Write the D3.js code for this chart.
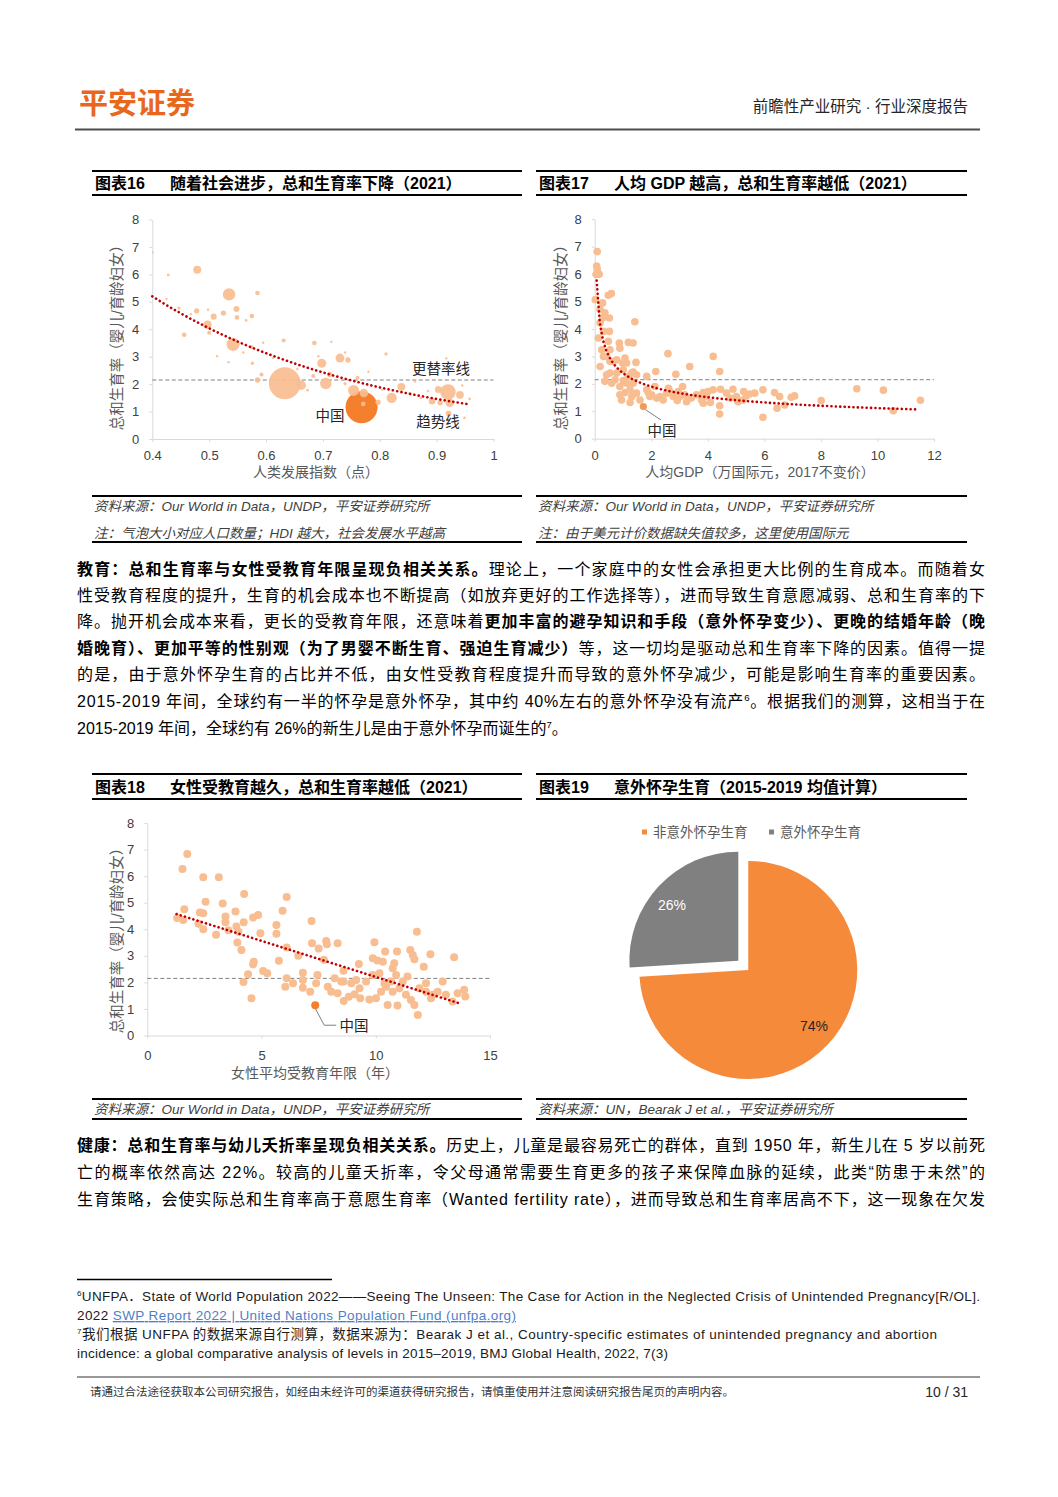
<!DOCTYPE html>
<html lang="zh-CN">
<head>
<meta charset="UTF-8">
<title>平安证券 行业深度报告 p10</title>
<script src="https://d3js.org/d3.v7.min.js"></script>
<style>
  body { margin: 0; background: #fff; }
  svg text { font-family: "Liberation Sans", "Noto Sans CJK SC", sans-serif; }
  .axis path, .axis line { stroke: #d9d9d9; }
  .axis text { fill: #404040; font-size: 13px; }
</style>
</head>
<body>
<div id="page"></div>
<script>
const W = 1058, H = 1497;

// ---- chart 16: HDI vs TFR, bubble = population (millions)
const hdiBubbles = [
  [0.400, 6.80, 10], [0.428, 5.98, 10], [0.479, 6.17, 88], [0.535, 5.27, 213], [0.585, 5.32, 30],
  [0.425, 5.10, 5], [0.447, 4.77, 15], [0.478, 4.67, 39], [0.525, 4.59, 39], [0.508, 4.46, 50],
  [0.548, 4.74, 50], [0.549, 4.43, 30], [0.575, 4.48, 30], [0.565, 4.32, 10], [0.498, 4.71, 5],
  [0.497, 4.16, 103], [0.500, 3.87, 22], [0.456, 3.80, 30], [0.542, 3.45, 231], [0.575, 3.34, 22],
  [0.631, 3.59, 22], [0.685, 3.50, 30], [0.811, 3.10, 15], [0.576, 2.76, 15], [0.534, 2.80, 5],
  [0.592, 2.35, 22], [0.585, 2.15, 39], [0.633, 2.03, 1408], [0.662, 1.96, 120], [0.698, 2.76, 111],
  [0.730, 2.95, 109], [0.744, 2.88, 39], [0.705, 2.02, 180], [0.712, 2.35, 39], [0.683, 2.30, 22],
  [0.754, 1.77, 170], [0.772, 1.68, 100], [0.771, 1.28, 30], [0.797, 1.34, 39], [0.821, 1.50, 145],
  [0.838, 1.90, 85], [0.853, 1.65, 15], [0.804, 1.80, 5], [0.892, 1.38, 61], [0.903, 1.80, 68],
  [0.920, 1.71, 332], [0.941, 1.61, 83], [0.923, 1.32, 100], [0.906, 1.32, 39], [0.921, 0.93, 45],
  [0.949, 0.77, 10], [0.958, 1.46, 10], [0.917, 2.94, 5], [0.761, 2.23, 22], [0.739, 2.02, 15],
  [0.673, 1.78, 10], [0.595, 3.51, 5], [0.514, 3.02, 5], [0.715, 3.54, 5], [0.739, 3.15, 5],
  [0.692, 3.02, 5], [0.872, 1.50, 10], [0.468, 4.55, 4], [0.612, 2.95, 4], [0.655, 2.55, 4],
  [0.780, 2.45, 4], [0.862, 2.10, 4], [0.885, 1.75, 4], [0.945, 1.95, 4], [0.560, 3.15, 4]
];
const chinaHdi = [0.768, 1.16, 1412];
const hdiTicks = [0.4, 0.5, 0.6, 0.7, 0.8, 0.9, 1];
const trend16 = { a: 14.37, b: -2.541, from: 0.40, to: 0.958 };   // exponential trendline

// ---- chart 17: GDP per capita (10k intl $) vs TFR
const gdpPoints = [
  [0.09, 6.82], [0.07, 6.29], [0.09, 6.17], [0.16, 5.99], [0.05, 5.99], [0.02, 5.07], [0.48, 5.23],
  [0.59, 5.29], [0.28, 4.95], [0.19, 4.71], [0.36, 4.59], [0.52, 4.40], [0.28, 4.40], [1.42, 4.26],
  [0.19, 4.22], [0.52, 3.91], [0.31, 3.91], [0.13, 3.67], [0.48, 3.55], [0.87, 3.49], [1.19, 3.51],
  [1.36, 3.49], [0.54, 3.24], [0.89, 3.30], [0.31, 3.00], [0.66, 2.82], [1.07, 2.94], [1.46, 2.78],
  [2.59, 3.10], [3.36, 2.63], [4.19, 3.00], [4.42, 2.45], [2.16, 2.45], [2.87, 2.35], [1.84, 2.27],
  [1.36, 2.43], [1.31, 2.39], [0.42, 2.33], [0.78, 2.39], [1.01, 2.51], [1.13, 2.76], [1.48, 2.33],
  [0.36, 2.09], [0.60, 2.02], [0.89, 1.90], [1.01, 2.12], [1.36, 2.02], [1.25, 1.78], [0.95, 1.41],
  [1.25, 1.32], [1.31, 1.54], [1.48, 1.66], [1.60, 1.41], [1.84, 1.78], [2.01, 1.60], [2.13, 1.90],
  [2.31, 1.54], [2.54, 1.66], [2.61, 1.84], [2.78, 1.54], [2.92, 1.39], [3.11, 1.90], [3.19, 1.60],
  [3.25, 1.35], [3.42, 1.48], [3.84, 1.68], [3.84, 1.29], [4.01, 1.72], [4.09, 1.32], [4.19, 1.78],
  [4.45, 1.80], [4.42, 1.20], [4.42, 0.90], [4.78, 1.48], [4.89, 1.80], [5.01, 1.54], [5.27, 1.72],
  [5.36, 1.56], [5.66, 1.66], [5.95, 1.78], [5.95, 0.78], [6.36, 1.68], [6.54, 1.54], [6.45, 1.11],
  [6.72, 1.23], [6.95, 1.51], [7.07, 1.56], [8.01, 1.39], [9.27, 1.82], [10.21, 1.77], [10.56, 1.02],
  [11.52, 1.40], [0.19, 2.63], [0.54, 2.39], [0.72, 2.15], [1.13, 2.02], [0.89, 1.60], [1.07, 1.68],
  [1.19, 2.27], [0.54, 2.82], [0.25, 3.24], [0.42, 3.00], [0.78, 2.88], [0.99, 2.76], [2.19, 1.48],
  [2.42, 1.41], [2.66, 1.72], [3.01, 1.54], [1.95, 1.54], [1.89, 1.68], [2.95, 1.72], [3.78, 1.41],
  [3.95, 1.54], [3.60, 1.60], [5.25, 1.41], [5.48, 1.63], [4.66, 1.66], [5.07, 1.35]
];
const chinaGdp = [1.72, 1.17];
const gdpTicks = [0, 2, 4, 6, 8, 10, 12];
const trend17 = { a: 2.39, b: -0.331, from: 0.07, to: 11.4 };     // power trendline

// ---- chart 18: female mean years of schooling vs TFR
const eduPoints = [
  [1.75, 6.83], [1.54, 6.27], [2.45, 5.96], [3.13, 5.96], [4.24, 5.33], [6.10, 5.21], [2.55, 5.04],
  [3.30, 4.97], [1.62, 4.75], [3.86, 4.67], [5.92, 4.70], [2.30, 4.63], [2.45, 4.60], [3.42, 4.48],
  [1.31, 4.42], [1.57, 4.35], [4.63, 4.44], [4.85, 4.54], [4.22, 4.26], [3.42, 4.26], [5.65, 4.16],
  [2.24, 4.21], [2.45, 4.00], [3.90, 4.10], [3.99, 3.91], [3.55, 3.96], [3.01, 3.79], [4.95, 3.85],
  [5.65, 3.83], [7.19, 4.31], [3.94, 3.50], [4.12, 3.22], [7.21, 3.47], [7.83, 3.56], [7.86, 3.44],
  [8.33, 3.47], [7.50, 3.28], [6.10, 3.31], [6.61, 3.00], [7.73, 2.85], [5.76, 2.81], [4.66, 2.78],
  [4.63, 2.68], [9.94, 3.51], [10.41, 3.16], [10.93, 3.16], [11.80, 3.91], [11.51, 3.22], [11.62, 3.03],
  [11.69, 2.87], [12.39, 3.06], [13.43, 2.95], [12.10, 2.59], [9.26, 2.69], [9.87, 2.91], [10.07, 2.82],
  [10.31, 2.78], [8.59, 2.44], [8.59, 2.03], [4.41, 2.31], [5.07, 2.43], [5.25, 2.34], [4.21, 2.01],
  [4.56, 1.40], [6.10, 2.16], [6.04, 1.84], [6.38, 1.97], [6.81, 2.36], [6.81, 2.09], [6.81, 1.80],
  [7.13, 1.65], [7.45, 2.28], [7.90, 1.84], [8.20, 2.16], [8.33, 1.59], [8.60, 1.30], [8.82, 1.46],
  [9.07, 1.55], [9.32, 1.40], [9.72, 1.36], [10.01, 1.40], [10.52, 1.15], [10.95, 1.13], [10.74, 2.53],
  [10.81, 2.72], [10.89, 2.28], [10.67, 2.03], [10.45, 1.84], [10.74, 1.65], [11.03, 1.78], [11.32, 1.53],
  [11.39, 2.22], [11.69, 1.15], [11.84, 0.77], [11.54, 1.34], [11.91, 1.78], [12.20, 1.65], [12.49, 1.53],
  [12.71, 1.65], [12.93, 2.03], [13.07, 1.53], [13.36, 1.28], [13.58, 1.59], [13.87, 1.72], [13.92, 1.47],
  [9.14, 2.09], [9.58, 2.03], [9.87, 2.28], [10.16, 2.34], [8.49, 2.03], [8.93, 1.97], [7.39, 1.97],
  [8.05, 1.65], [9.29, 1.78], [10.23, 1.65], [12.42, 1.40], [12.20, 1.97], [10.38, 1.97], [11.18, 2.03]
];
const chinaEdu = [7.35, 1.14];
const eduTicks = [0, 5, 10, 15];
const trend18 = { slope: -0.2715, intercept: 4.92, from: 1.28, to: 13.73 }; // linear trendline

const yTicks = [0, 1, 2, 3, 4, 5, 6, 7, 8];
const replacementRate = 2.15;

// ---- chart 19
const pieLabels = ["非意外怀孕生育", "意外怀孕生育"];
const pieValues = [74, 26];
const pieColors = ["#f58a3a", "#808080"];

const bubbleColor = "#f8bd90", chinaColor = "#f47f2c", trendColor = "#c00000";

const svg = d3.select("#page").append("svg").attr("width", W).attr("height", H);

// ---------- helpers
function textLine(x, y, segs, size, width, color) {
  const t = svg.append("text").attr("x", x).attr("y", y)
    .attr("font-size", size).attr("fill", color || "#000");
  let raised = false;
  segs.forEach(s => {
    const ts = t.append("tspan").text(s.t);
    if (s.b) ts.attr("font-weight", "bold");
    if (s.sup) { ts.attr("font-size", size * 0.6).attr("dy", -size * 0.4); raised = true; }
    else if (raised) { ts.attr("dy", size * 0.4); raised = false; }
    if (s.fill) ts.attr("fill", s.fill);
    if (s.u) ts.attr("text-decoration", "underline");
  });
  if (width) t.attr("textLength", width).attr("lengthAdjust", "spacing");
  return t;
}

function hline(x1, x2, y, w, c) {
  svg.append("line").attr("x1", x1).attr("x2", x2).attr("y1", y).attr("y2", y)
    .attr("stroke", c || "#000").attr("stroke-width", w);
}

function titleBar(x1, x2, top, bottom, num, title, titleX) {
  hline(x1, x2, top, 2);
  hline(x1, x2, bottom, 2);
  const cy = (top + bottom) / 2 + 6;
  svg.append("text").attr("x", x1 + 3).attr("y", cy).attr("font-size", 16)
    .attr("font-weight", "bold").text(num);
  svg.append("text").attr("x", titleX).attr("y", cy).attr("font-size", 16)
    .attr("font-weight", "bold").text(title);
}

function sourceBox(x1, x2, top, bottom, lines) {
  hline(x1, x2, top, 2);
  hline(x1, x2, bottom, 2);
  lines.forEach((l, i) => {
    svg.append("text").attr("x", x1 + 2).attr("y", top + 15 + i * 27)
      .attr("font-size", 13.5).attr("font-style", "italic").attr("fill", "#404040").text(l);
  });
}

function frame(o) {
  const x = d3.scaleLinear().domain([o.ticks[0], o.ticks[o.ticks.length - 1]]).range([o.x0, o.x1]);
  const y = d3.scaleLinear().domain([0, 8]).range([o.y0, o.y1]);
  svg.append("g").attr("class", "axis").attr("transform", `translate(0,${o.y0})`)
    .call(d3.axisBottom(x).tickValues(o.ticks).tickSize(3).tickSizeOuter(0)
      .tickPadding(o.xPad).tickFormat(d3.format("~g")));
  svg.append("g").attr("class", "axis").attr("transform", `translate(${o.x0},0)`)
    .call(d3.axisLeft(y).tickValues(yTicks).tickSize(3).tickSizeOuter(0).tickPadding(10));
  svg.selectAll(".axis .domain").attr("stroke", "#d9d9d9");
  // axis titles
  svg.append("text").attr("x", o.xLabelX).attr("y", o.xLabelY).attr("text-anchor", "middle")
    .attr("font-size", 14).attr("fill", "#595959").text(o.xLabel);
  svg.append("text").attr("transform", `translate(${o.yLabelX},${o.yLabelY}) rotate(-90)`)
    .attr("text-anchor", "middle").attr("dy", "0.35em")
    .attr("font-size", 14.5).attr("fill", "#595959").text("总和生育率（婴儿/育龄妇女）");
  // replacement line
  svg.append("line").attr("x1", o.x0).attr("x2", o.x1)
    .attr("y1", y(replacementRate)).attr("y2", y(replacementRate))
    .attr("stroke", "#808080").attr("stroke-width", 1).attr("stroke-dasharray", "4 2.5");
  return { x, y };
}

function trendPath(sc, f, from, to) {
  const xs = d3.range(0, 101).map(i => from + (to - from) * i / 100);
  return svg.append("path")
    .attr("d", d3.line().x(d => sc.x(d)).y(d => sc.y(f(d)))(xs))
    .attr("fill", "none").attr("stroke", trendColor).attr("stroke-width", 2.6)
    .attr("stroke-linecap", "round").attr("stroke-dasharray", "0.1 4.3");
}

function label(x, y, t, size, color) {
  svg.append("text").attr("x", x).attr("y", y).attr("text-anchor", "middle").attr("dy", "0.35em")
    .attr("font-size", size || 14.5).attr("fill", color || "#262626").text(t);
}

// ---------- page header
svg.append("text").attr("x", 79).attr("y", 114).attr("font-size", 29).attr("font-weight", "bold")
  .attr("fill", "#e9661d").attr("font-family", "Noto Sans CJK SC").text("平安证券");
svg.append("text").attr("x", 968).attr("y", 112).attr("text-anchor", "end").attr("font-size", 15.5)
  .attr("fill", "#262626").text("前瞻性产业研究 · 行业深度报告");
hline(75, 980, 129.5, 2.2, "#4d4d4d");

// ---------- chart 16
titleBar(92, 522, 171, 195, "图表16", "随着社会进步，总和生育率下降（2021）", 170);
{
  const sc = frame({ ticks: hdiTicks, x0: 152.3, x1: 493.5, y0: 439, y1: 219.5, xPad: 9,
    xLabel: "人类发展指数（点）", xLabelX: 316, xLabelY: 477, yLabelX: 117, yLabelY: 334 });
  const r = d3.scaleSqrt().domain([0, 1412]).range([0, 16]);
  svg.append("clipPath").attr("id", "c16").append("rect")
    .attr("x", 152.3).attr("y", 200).attr("width", 345).attr("height", 239);
  svg.append("circle").attr("cx", sc.x(chinaHdi[0])).attr("cy", sc.y(chinaHdi[1]))
    .attr("r", r(chinaHdi[2])).attr("fill", chinaColor);
  svg.append("g").attr("clip-path", "url(#c16)").selectAll("circle").data(hdiBubbles).join("circle")
    .attr("cx", d => sc.x(d[0])).attr("cy", d => sc.y(d[1]))
    .attr("r", d => Math.max(1.2, r(d[2]))).attr("fill", bubbleColor).attr("fill-opacity", 0.92);
  trendPath(sc, v => trend16.a * Math.exp(trend16.b * v), trend16.from, trend16.to);
  label(441, 369, "更替率线");
  label(330, 416, "中国");
  label(438, 422, "趋势线");
}
sourceBox(92, 522, 496, 542, ["资料来源：Our World in Data，UNDP，平安证券研究所",
  "注：气泡大小对应人口数量；HDI 越大，社会发展水平越高"]);

// ---------- chart 17
titleBar(536, 967, 171, 195, "图表17", "人均 GDP 越高，总和生育率越低（2021）", 614);
{
  const sc = frame({ ticks: gdpTicks, x0: 594.7, x1: 934, y0: 438.7, y1: 219.2, xPad: 9,
    xLabel: "人均GDP（万国际元，2017不变价）", xLabelX: 760, xLabelY: 477, yLabelX: 561, yLabelY: 334 });
  svg.append("g").selectAll("circle").data(gdpPoints).join("circle")
    .attr("cx", d => sc.x(d[0])).attr("cy", d => sc.y(d[1])).attr("r", 3.8).attr("fill", bubbleColor);
  svg.append("circle").attr("cx", sc.x(chinaGdp[0])).attr("cy", sc.y(chinaGdp[1]))
    .attr("r", 3.6).attr("fill", "#f29a5c");
  trendPath(sc, v => trend17.a * Math.pow(v, trend17.b), trend17.from, trend17.to);
  svg.append("line").attr("x1", sc.x(chinaGdp[0]) + 2).attr("y1", sc.y(chinaGdp[1]) + 3)
    .attr("x2", 661).attr("y2", 420).attr("stroke", "#7f7f7f").attr("stroke-width", 1);
  label(662, 431, "中国");
}
sourceBox(536, 967, 496, 542, ["资料来源：Our World in Data，UNDP，平安证券研究所",
  "注：由于美元计价数据缺失值较多，这里使用国际元"]);

// ---------- body paragraph 1
const B = 908, L = 77;
textLine(L, 575, [{ t: "教育：总和生育率与女性受教育年限呈现负相关关系。", b: 1 },
  { t: "理论上，一个家庭中的女性会承担更大比例的生育成本。而随着女" }], 16, B);
textLine(L, 601, [{ t: "性受教育程度的提升，生育的机会成本也不断提高（如放弃更好的工作选择等），进而导致生育意愿减弱、总和生育率的下" }], 16, B);
textLine(L, 627, [{ t: "降。抛开机会成本来看，更长的受教育年限，还意味着" },
  { t: "更加丰富的避孕知识和手段（意外怀孕变少）、更晚的结婚年龄（晚", b: 1 }], 16, B);
textLine(L, 654, [{ t: "婚晚育）、更加平等的性别观（为了男婴不断生育、强迫生育减少）", b: 1 },
  { t: "等，这一切均是驱动总和生育率下降的因素。值得一提" }], 16, B);
textLine(L, 680, [{ t: "的是，由于意外怀孕生育的占比并不低，由女性受教育程度提升而导致的意外怀孕减少，可能是影响生育率的重要因素。" }], 16, B);
textLine(L, 707, [{ t: "2015-2019 年间，全球约有一半的怀孕是意外怀孕，其中约 40%左右的意外怀孕没有流产" },
  { t: "6", sup: 1 }, { t: "。根据我们的测算，这相当于在" }], 16, B);
textLine(L, 734, [{ t: "2015-2019 年间，全球约有 26%的新生儿是由于意外怀孕而诞生的" },
  { t: "7", sup: 1 }, { t: "。" }], 16);

// ---------- chart 18
titleBar(92, 522, 774, 799, "图表18", "女性受教育越久，总和生育率越低（2021）", 170);
{
  const sc = frame({ ticks: eduTicks, x0: 147.3, x1: 490, y0: 1035.5, y1: 823, xPad: 12,
    xLabel: "女性平均受教育年限（年）", xLabelX: 315, xLabelY: 1078, yLabelX: 117, yLabelY: 937 });
  svg.append("g").selectAll("circle").data(eduPoints).join("circle")
    .attr("cx", d => sc.x(d[0])).attr("cy", d => sc.y(d[1])).attr("r", 4).attr("fill", bubbleColor);
  trendPath(sc, v => trend18.intercept + trend18.slope * v, trend18.from, trend18.to);
  const cx = sc.x(chinaEdu[0]), cy = sc.y(chinaEdu[1]);
  svg.append("polyline").attr("points", `${cx},${cy + 3} ${cx + 9},${cy + 20} ${cx + 21},${cy + 20}`)
    .attr("fill", "none").attr("stroke", "#7f7f7f").attr("stroke-width", 1);
  svg.append("circle").attr("cx", cx).attr("cy", cy).attr("r", 4).attr("fill", chinaColor);
  label(354, 1026, "中国");
}
sourceBox(92, 522, 1099, 1119, ["资料来源：Our World in Data，UNDP，平安证券研究所"]);

// ---------- chart 19
titleBar(536, 967, 774, 799, "图表19", "意外怀孕生育（2015-2019 均值计算）", 614);
{
  const cx = 743.3, cy = 965.3, R = 109, off = 6.8;
  const arcs = d3.pie().sort(null)(pieValues);
  const arc = d3.arc().innerRadius(0).outerRadius(R);
  const g = svg.append("g").attr("transform", `translate(${cx},${cy})`);
  g.selectAll("path").data(arcs).join("path")
    .attr("transform", d => {
      const a = (d.startAngle + d.endAngle) / 2;
      return `translate(${off * Math.sin(a)},${-off * Math.cos(a)})`;
    })
    .attr("d", arc).attr("fill", (d, i) => pieColors[i]);
  label(672, 905, pieValues[1] + "%", 14, "#fff");
  label(814, 1026, pieValues[0] + "%", 14, "#262626");
  // legend
  const lx = [642, 769];
  pieLabels.forEach((t, i) => {
    svg.append("rect").attr("x", lx[i]).attr("y", 829.5).attr("width", 5).attr("height", 5).attr("fill", pieColors[i]);
    svg.append("text").attr("x", lx[i] + 11).attr("y", 837).attr("font-size", 13.5)
      .attr("fill", "#595959").text(t);
  });
}
sourceBox(536, 967, 1099, 1119, ["资料来源：UN，Bearak J et al.，平安证券研究所"]);

// ---------- body paragraph 2
textLine(L, 1151, [{ t: "健康：总和生育率与幼儿夭折率呈现负相关关系。", b: 1 },
  { t: "历史上，儿童是最容易死亡的群体，直到 1950 年，新生儿在 5 岁以前死" }], 16, B);
textLine(L, 1178, [{ t: "亡的概率依然高达 22%。较高的儿童夭折率，令父母通常需要生育更多的孩子来保障血脉的延续，此类“防患于未然”的" }], 16, B);
textLine(L, 1205, [{ t: "生育策略，会使实际总和生育率高于意愿生育率（Wanted fertility rate），进而导致总和生育率居高不下，这一现象在欠发" }], 16, B);

// ---------- footnotes
hline(77, 332, 1279.5, 1.5);
textLine(77, 1301, [{ t: "6", sup: 1 }, { t: "UNFPA．State of World Population 2022——Seeing The Unseen: The Case for Action in the Neglected Crisis of Unintended Pregnancy[R/OL]." }], 13.5, 903, "#1a1a1a");
textLine(77, 1320, [{ t: "2022 " }, { t: "SWP Report 2022 | United Nations Population Fund (unfpa.org)", fill: "#4f7fc4", u: 1 }], 13.5, 439, "#1a1a1a");
textLine(77, 1339, [{ t: "7", sup: 1 }, { t: "我们根据 UNFPA 的数据来源自行测算，数据来源为：Bearak J et al., Country-specific estimates of unintended pregnancy and abortion" }], 13.5, 860, "#1a1a1a");
textLine(77, 1358, [{ t: "incidence: a global comparative analysis of levels in 2015–2019, BMJ Global Health, 2022, 7(3)" }], 13.5, 591, "#1a1a1a");

// ---------- footer
hline(77, 980, 1377, 1.2, "#333");
svg.append("text").attr("x", 90).attr("y", 1396).attr("font-size", 11.5).attr("fill", "#333")
  .text("请通过合法途径获取本公司研究报告，如经由未经许可的渠道获得研究报告，请慎重使用并注意阅读研究报告尾页的声明内容。");
svg.append("text").attr("x", 968).attr("y", 1397).attr("text-anchor", "end").attr("font-size", 14)
  .attr("fill", "#262626").text("10 / 31");
</script>
</body>
</html>
